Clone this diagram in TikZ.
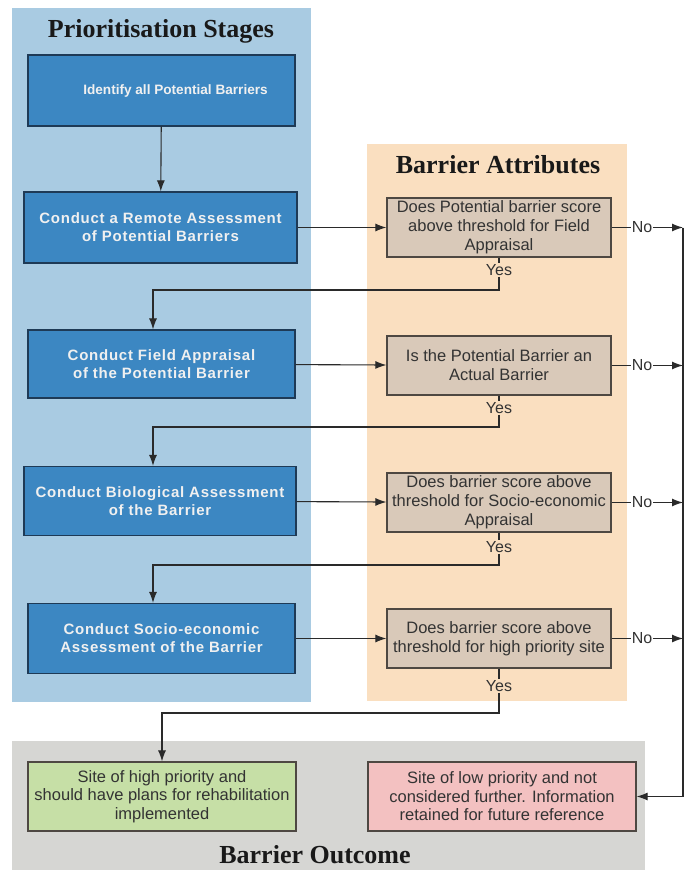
\documentclass[tikz,border=0pt]{standalone}
\usepackage{fontspec}
\setmainfont{Liberation Serif}
\newfontfamily\arfont{Liberation Sans}
\newfontfamily\arspaced[LetterSpace=5]{Liberation Sans}
\usetikzlibrary{arrows.meta,calc}
\definecolor{bluepanel}{HTML}{A9CBE2}
\definecolor{bluebox}{HTML}{3C87C2}
\definecolor{blueedge}{HTML}{1E3A56}
\definecolor{orangepanel}{HTML}{FADFC0}
\definecolor{decfill}{HTML}{D9C9B9}
\definecolor{decedge}{HTML}{4E4842}
\definecolor{graypanel}{HTML}{D6D6D3}
\definecolor{greenfill}{HTML}{C6DFA6}
\definecolor{redfill}{HTML}{F3C1C1}
\definecolor{linecol}{HTML}{2A2A2A}
\definecolor{txtcol}{HTML}{333333}
\begin{document}
\begin{tikzpicture}[x=1pt,y=-1pt,
  stagebox/.style={draw=blueedge,line width=1.2pt,fill=bluebox,text={white!94!black},
    font=\arspaced\bfseries\fontsize{15}{18}\selectfont,align=center,inner sep=2pt},
  decbox/.style={draw=decedge,line width=1.2pt,fill=decfill,text=txtcol,
    font=\arfont\fontsize{16.5}{19}\selectfont,align=center,inner sep=1pt,
    minimum width=224pt,minimum height=59pt},
  outbox/.style={draw=decedge,line width=1.2pt,text=txtcol,
    font=\arfont\fontsize{16.5}{18.5}\selectfont,align=center,inner sep=1pt,
    minimum width=268pt,minimum height=69pt},
  paneltitle/.style={font=\bfseries\fontsize{26}{28}\selectfont,text={black!90}},
  lbl/.style={font=\arfont\fontsize{16}{17}\selectfont,text=txtcol,inner sep=1pt},
  conn/.style={draw=linecol,line width=1.1pt},
  arr/.style={conn,-{Latex[length=11pt,width=8pt]}}
]
\useasboundingbox (0,0) rectangle (688,870);
\fill[white] (0,0) rectangle (688,870);
% panels
\fill[bluepanel] (12,8) rectangle (311,702);
\fill[orangepanel] (367,144) rectangle (627,701);
\fill[graypanel] (12,741) rectangle (645,870);
\node[paneltitle] (t1) at (161,31) {Prioritisation Stages};
\node[paneltitle] (t2) at (498,165) {Barrier Attributes};
\node[paneltitle] (t3) at (315,855) {Barrier Outcome};
% stage boxes
\node[stagebox,font=\arfont\bfseries\fontsize{13.6}{18}\selectfont,minimum width=267pt,minimum height=71pt] (s1) at (161.5,90.5) {\hspace*{28pt}Identify all Potential Barriers};
\node[stagebox,minimum width=273pt,minimum height=71pt] (s2) at (160.5,227.5) {Conduct a Remote Assessment\\of Potential Barriers};
\node[stagebox,minimum width=267pt,minimum height=68pt] (s3) at (161.5,364) {Conduct Field Appraisal\\of the Potential Barrier};
\node[stagebox,minimum width=272pt,minimum height=69pt] (s4) at (160,501) {Conduct Biological Assessment\\of the Barrier};
\node[stagebox,minimum width=267pt,minimum height=70pt] (s5) at (161.5,638.5) {Conduct Socio-economic\\Assessment of the Barrier};
% decision boxes
\node[decbox] (d1) at (499,227.5) {Does Potential barrier score\\above threshold for Field\\Appraisal};
\node[decbox] (d2) at (499,365.5) {Is the Potential Barrier an\\Actual Barrier};
\node[decbox] (d3) at (499,502.5) {Does barrier score above\\threshold for Socio-economic\\Appraisal};
\node[decbox] (d4) at (499,638.5) {Does barrier score above\\threshold for high priority site};
% outcome boxes
\node[outbox,fill=greenfill] (g) at (162,796.5) {Site of high priority and\\should have plans for rehabilitation\\implemented};
\node[outbox,fill=redfill] (r) at (502,796.5) {Site of low priority and not\\considered further. Information\\retained for future reference};
% yes / no labels
\node[lbl] (y1) at (499,270) {Yes};
\node[lbl] (y2) at (499,408) {Yes};
\node[lbl] (y3) at (499,547) {Yes};
\node[lbl] (y4) at (499,686) {Yes};
\node[lbl] (n1) at (642,227.5) {No};
\node[lbl] (n2) at (642,365.5) {No};
\node[lbl] (n3) at (642,502.5) {No};
\node[lbl] (n4) at (642,638.5) {No};
\coordinate (vtop) at (683,227.5);
\coordinate (vbot) at (683,796.5);
\coordinate (c1) at (153,290);
\coordinate (c2) at (153,427);
\coordinate (c3) at (153,565);
\coordinate (c4) at (162,713);
% connectors
\draw[arr] (s1) -- (s2);
\draw[arr] (s2) -- (d1);
\draw[arr] (s3) -- (d2);
\draw[arr] (s4) -- (d3);
\draw[arr] (s5) -- (d4);
\draw[conn] (d1) -- (y1);
\draw[conn] (d2) -- (y2);
\draw[conn] (d3) -- (y3);
\draw[conn] (d4) -- (y4);
\draw[arr] (y1) |- (c1) -- (c1 |- s3.north);
\draw[arr] (y2) |- (c2) -- (c2 |- s4.north);
\draw[arr] (y3) |- (c3) -- (c3 |- s5.north);
\draw[arr] (y4) |- (c4) -- (c4 |- g.north);
\draw[conn] (d1) -- (n1);
\draw[conn] (d2) -- (n2);
\draw[conn] (d3) -- (n3);
\draw[conn] (d4) -- (n4);
\draw[arr] (n1) -- (n1 -| vtop);
\draw[arr] (n2) -- (n2 -| vtop);
\draw[arr] (n3) -- (n3 -| vtop);
\draw[arr] (n4) -- (n4 -| vtop);
\draw[arr] (vtop) -- (vbot) -- (r);
\end{tikzpicture}
\end{document}
